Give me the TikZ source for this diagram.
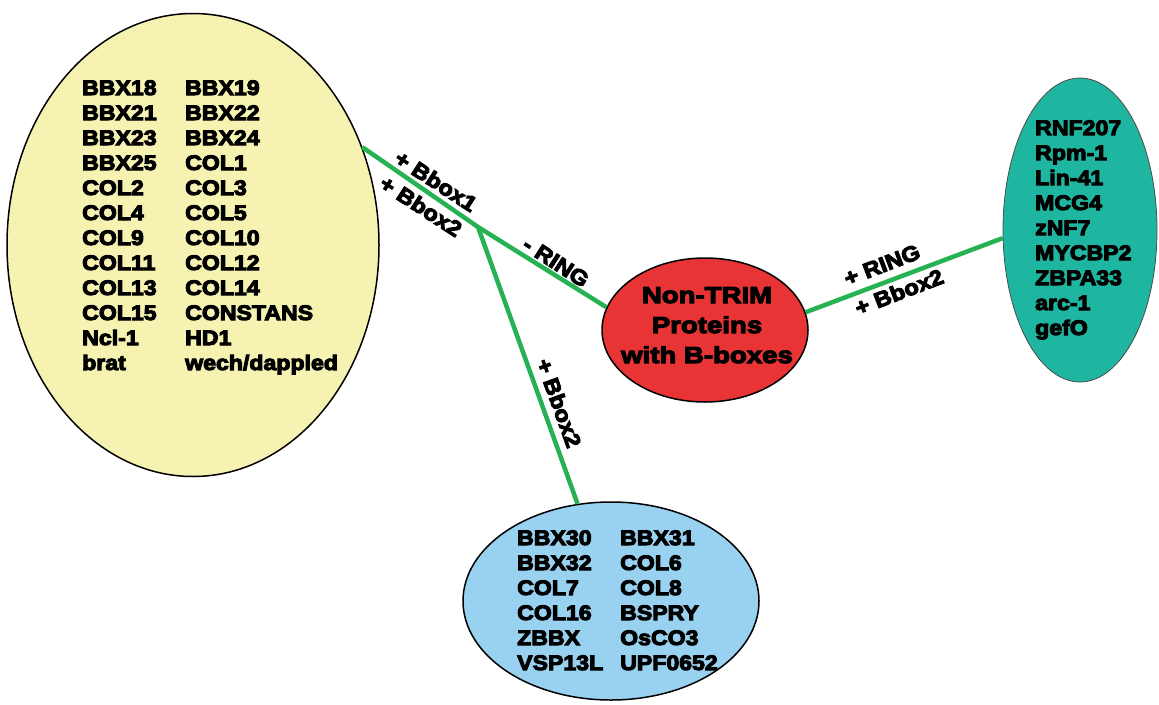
\documentclass[tikz,border=0pt]{standalone}
\usepackage{fontspec}
\usetikzlibrary{shapes.geometric}
\newfontfamily\labfont{Liberation Sans Bold}[FakeStretch=1.1,FakeBold=5]
\newfontfamily\redfont{Liberation Sans Bold}[FakeStretch=1.2,FakeBold=5]
\definecolor{yelfill}{RGB}{246,242,178}
\definecolor{redfill}{RGB}{232,52,52}
\definecolor{bluefill}{RGB}{152,210,240}
\definecolor{tealfill}{RGB}{30,182,160}
\definecolor{linkgreen}{RGB}{38,178,82}
\tikzset{
  item/.style={anchor=base west, inner sep=0pt, font=\labfont\fontsize{21}{25}\selectfont},
  redtext/.style={anchor=base, inner sep=0pt, font=\redfont\fontsize{23}{28}\selectfont},
  edgelab/.style={inner sep=0pt, font=\labfont\fontsize{21.5}{24}\selectfont},
  link/.style={draw=linkgreen, line width=4.5pt},
  blob/.style={ellipse, draw=black, line width=1.5pt, inner sep=0pt}
}
\begin{document}
\begin{tikzpicture}[x=1pt,y=-1pt]
\useasboundingbox (0,0) rectangle (1159,704);
% ellipses
\node[blob, fill=yelfill, minimum width=372pt, minimum height=463pt] (Y) at (193,245) {};
\node[blob, fill=redfill, minimum width=206pt, minimum height=144pt] (R) at (705,330) {};
\node[blob, fill=bluefill, minimum width=296pt, minimum height=198pt] (B) at (611,601) {};
\node[blob, fill=tealfill, draw=black!70, line width=0.8pt, minimum width=154pt, minimum height=304pt] (T) at (1080,230) {};
\coordinate (J) at (478,227);
% connectors
\draw[link] (Y.30) -- (J);
\draw[link] (J) -- (R.167);
\draw[link] (J) -- (B.109);
\draw[link] (R.10) -- (T.186);
% edge labels
\node[edgelab, rotate=-33] (l1) at (436,181) {+ Bbox1};
\node[edgelab, rotate=-33] (l2) at (421,206) {+ Bbox2};
\node[edgelab, rotate=-33] (l3) at (556,262) {- RING};
\node[edgelab, rotate=-70] (l4) at (559,403) {+ Bbox2};
\node[edgelab, rotate=21] (l5) at (882,265) {+ RING};
\node[edgelab, rotate=21] (l6) at (899,292) {+ Bbox2};
% yellow ellipse contents
\foreach \t [count=\i] in {BBX18,BBX21,BBX23,BBX25,COL2,COL4,COL9,COL11,COL13,COL15,Ncl-1,brat}
  \node[item] (ya\i) at (82,{95+25*(\i-1)}) {\t};
\foreach \t [count=\i] in {BBX19,BBX22,BBX24,COL1,COL3,COL5,COL10,COL12,COL14,CONSTANS,HD1,wech/dappled}
  \node[item] (yb\i) at (185,{95+25*(\i-1)}) {\t};
% teal ellipse contents
\foreach \t [count=\i] in {RNF207,Rpm-1,Lin-41,MCG4,zNF7,MYCBP2,ZBPA33,arc-1,gefO}
  \node[item] (ta\i) at (1035,{135+25*(\i-1)}) {\t};
% blue ellipse contents
\foreach \t [count=\i] in {BBX30,BBX32,COL7,COL16,ZBBX,VSP13L}
  \node[item] (ba\i) at (517,{545+25*(\i-1)}) {\t};
\foreach \t [count=\i] in {BBX31,COL6,COL8,BSPRY,OsCO3,UPF0652}
  \node[item] (bb\i) at (620,{545+25*(\i-1)}) {\t};
% red ellipse contents
\node[redtext] (r1) at (707,303) {Non-TRIM};
\node[redtext] (r2) at (707,333) {Proteins};
\node[redtext] (r3) at (707,363) {with B-boxes};
\end{tikzpicture}
\end{document}
